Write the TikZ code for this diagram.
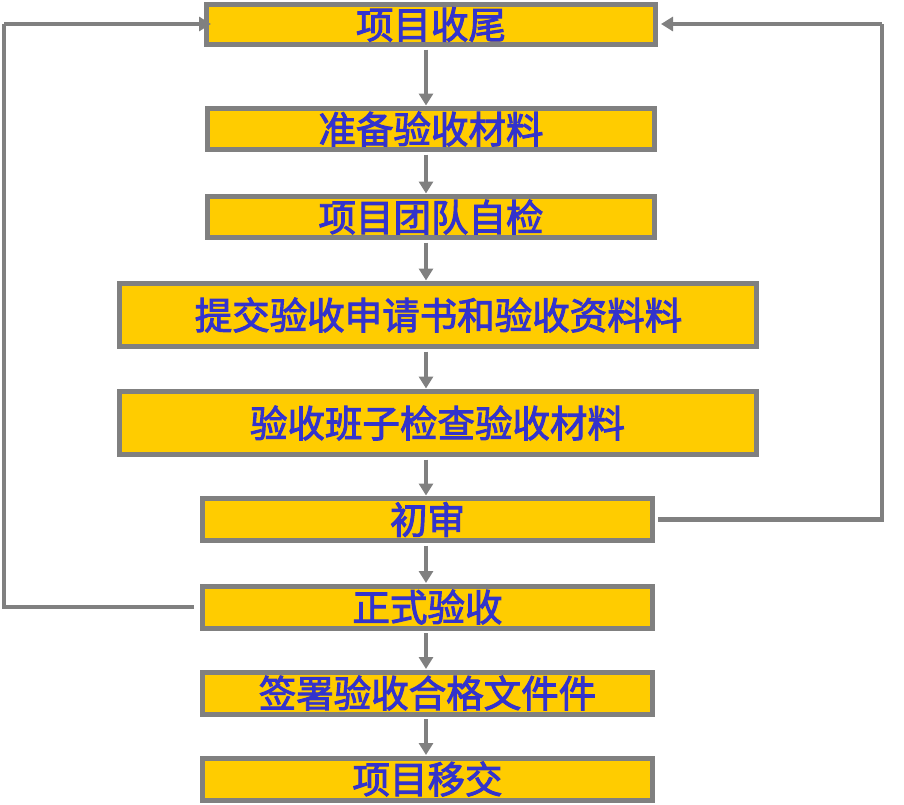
\documentclass[tikz,border=0pt]{standalone}
\usepackage{fontspec}
\newfontfamily\cjk{Noto Sans CJK SC}[FakeBold=2.5]
\usetikzlibrary{arrows.meta}
\definecolor{boxfill}{HTML}{FFCC00}
\definecolor{boxline}{HTML}{808080}
\definecolor{txtblue}{RGB}{51,51,204}
\tikzset{
  stepbox/.style={draw=boxline, line width=5pt, fill=boxfill, inner sep=0pt,
    text=txtblue, font=\cjk\fontsize{37.5}{37.5}\selectfont},
  conn/.style={draw=boxline, line width=4.5pt},
  arr/.style={conn, -{Triangle[length=12pt,width=14pt]}, shorten >=-1pt},
}
\begin{document}
\begin{tikzpicture}[x=1pt,y=-1pt]
\useasboundingbox (0,0) rectangle (904,804);
\coordinate (spine) at (426,0);
\node[stepbox, minimum width=449pt, minimum height=40pt] (b1) at (431,24.5) {项目收尾};
\node[stepbox, minimum width=447pt, minimum height=41pt] (b2) at (431,129) {准备验收材料};
\node[stepbox, minimum width=447pt, minimum height=41pt] (b3) at (431,217) {项目团队自检};
\node[stepbox, minimum width=637pt, minimum height=63pt] (b4) at (437.5,315) {\hspace*{2pt}提交验收申请书和验收资料料};
\node[stepbox, minimum width=637pt, minimum height=63pt] (b5) at (437.5,423) {验收班子检查验收材料};
\node[stepbox, minimum width=450pt, minimum height=42pt] (b6) at (427.5,519.5) {初审};
\node[stepbox, minimum width=450pt, minimum height=42pt] (b7) at (427.5,607) {正式验收};
\node[stepbox, minimum width=450pt, minimum height=42pt] (b8) at (427.5,693) {签署验收合格文件件};
\node[stepbox, minimum width=450pt, minimum height=42pt] (b9) at (427.5,779) {项目移交};
\foreach \a/\b in {b1/b2,b2/b3,b3/b4,b4/b5,b5/b6,b6/b7,b7/b8,b8/b9}
  \draw[arr] ([yshift=-2.5pt]\a.south -| spine) -- ([yshift=1.5pt]\b.north -| spine);
\coordinate (rtop) at (882,24);
\coordinate (ltop) at (4,24);
\draw[conn] ([xshift=3pt]b6.east) -| (rtop);
\draw[arr] (rtop) -- ([xshift=4pt]b1.east |- rtop);
\draw[conn] ([xshift=-6pt]b7.west) -| (ltop);
\draw[arr] (ltop) -- ([xshift=6pt]b1.west |- ltop);
\end{tikzpicture}
\end{document}
